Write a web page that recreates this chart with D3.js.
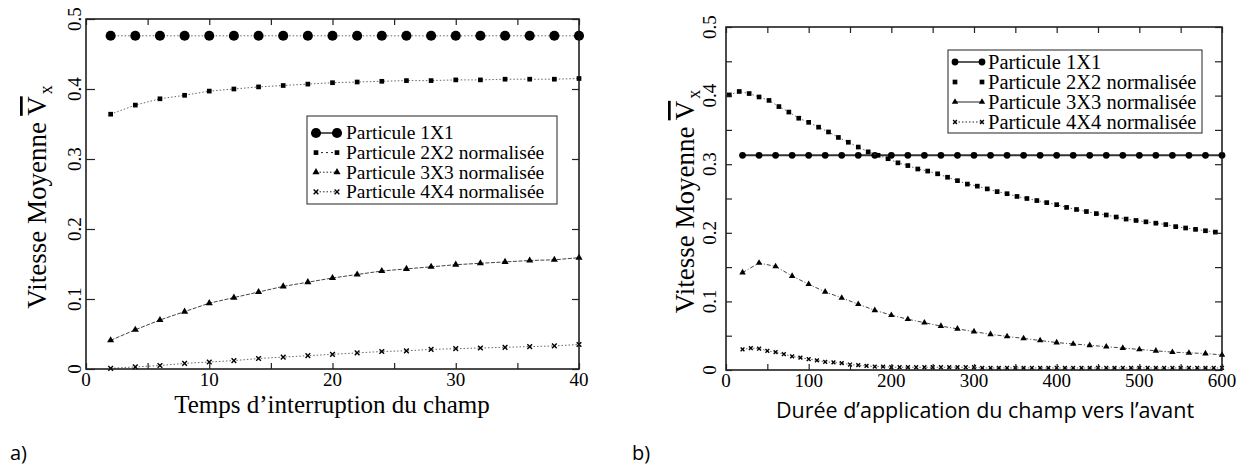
<!DOCTYPE html>
<html>
<head>
<meta charset="utf-8">
<script src="https://cdn.jsdelivr.net/npm/d3@7"></script>
<style>
  body { margin: 0; background: #fff; }
</style>
</head>
<body>
<div id="chart"></div>
<script>
// Données lues sur la figure a) : temps d'interruption du champ
const tempsA = [2, 4, 6, 8, 10, 12, 14, 16, 18, 20, 22, 24, 26, 28, 30, 32, 34, 36, 38, 40];
const a_1x1 = [0.476, 0.476, 0.476, 0.476, 0.476, 0.476, 0.476, 0.476, 0.476, 0.476,
               0.476, 0.476, 0.476, 0.476, 0.476, 0.476, 0.476, 0.476, 0.476, 0.476];
const a_2x2 = [0.364, 0.377, 0.386, 0.391, 0.397, 0.400, 0.403, 0.405, 0.407, 0.409,
               0.410, 0.411, 0.412, 0.412, 0.413, 0.413, 0.414, 0.414, 0.414, 0.415];
const a_3x3 = [0.041, 0.056, 0.070, 0.082, 0.094, 0.102, 0.110, 0.118, 0.124, 0.130,
               0.135, 0.140, 0.143, 0.146, 0.149, 0.151, 0.153, 0.155, 0.156, 0.159];
const a_4x4 = [0.001, 0.003, 0.005, 0.008, 0.010, 0.012, 0.015, 0.017, 0.019, 0.021,
               0.023, 0.025, 0.026, 0.028, 0.029, 0.030, 0.031, 0.032, 0.033, 0.035];

// Données lues sur la figure b) : durée d'application du champ vers l'avant
const dureeB20 = [20, 40, 60, 80, 100, 120, 140, 160, 180, 200, 220, 240, 260, 280, 300,
                  320, 340, 360, 380, 400, 420, 440, 460, 480, 500, 520, 540, 560, 580, 600];
const b_1x1 = [0.313, 0.313, 0.313, 0.313, 0.313, 0.313, 0.313, 0.313, 0.313, 0.313,
               0.313, 0.313, 0.313, 0.313, 0.313, 0.313, 0.313, 0.313, 0.313, 0.313,
               0.313, 0.313, 0.313, 0.313, 0.313, 0.313, 0.313, 0.313, 0.313, 0.313];
const b_3x3 = [0.142, 0.156, 0.151, 0.137, 0.125, 0.114, 0.105, 0.096, 0.087, 0.080,
               0.074, 0.069, 0.064, 0.060, 0.056, 0.052, 0.049, 0.046, 0.043, 0.040,
               0.038, 0.036, 0.034, 0.032, 0.030, 0.028, 0.026, 0.025, 0.024, 0.022];
const dureeB12 = [4, 16, 28, 40, 52, 64, 76, 88, 100, 112, 124, 136, 148, 160, 172, 184, 196,
                  208, 220, 232, 244, 256, 268, 280, 292, 304, 316, 328, 340, 352, 364, 376,
                  388, 400, 412, 424, 436, 448, 460, 472, 484, 496, 508, 520, 532, 544, 556,
                  568, 580, 592];
const b_2x2 = [0.401, 0.406, 0.403, 0.398, 0.393, 0.384, 0.376, 0.367, 0.361, 0.354,
               0.347, 0.339, 0.332, 0.325, 0.318, 0.313, 0.308, 0.302, 0.298, 0.293,
               0.290, 0.286, 0.281, 0.276, 0.271, 0.268, 0.264, 0.260, 0.257, 0.253,
               0.250, 0.247, 0.244, 0.241, 0.237, 0.234, 0.231, 0.228, 0.226, 0.223,
               0.220, 0.218, 0.216, 0.214, 0.212, 0.209, 0.207, 0.205, 0.203, 0.201];
const dureeB10 = [20, 30, 40, 50, 60, 70, 80, 90, 100, 110, 120, 130, 140, 150, 160, 170, 180,
                  190, 200, 210, 220, 230, 240, 250, 260, 270, 280, 290, 300, 310, 320, 330,
                  340, 350, 360, 370, 380, 390, 400, 410, 420, 430, 440, 450, 460, 470, 480,
                  490, 500, 510, 520, 530, 540, 550, 560, 570, 580, 590, 600];
const b_4x4 = [0.030, 0.032, 0.031, 0.028, 0.026, 0.023, 0.020, 0.018, 0.016, 0.014,
               0.012, 0.011, 0.010, 0.008, 0.007, 0.006, 0.005, 0.005, 0.004, 0.004,
               0.004, 0.004, 0.004, 0.004, 0.004, 0.004, 0.004, 0.004, 0.004, 0.003,
               0.003, 0.003, 0.003, 0.003, 0.003, 0.003, 0.003, 0.003, 0.003, 0.003,
               0.003, 0.003, 0.003, 0.003, 0.003, 0.003, 0.003, 0.003, 0.003, 0.003,
               0.003, 0.003, 0.003, 0.003, 0.003, 0.003, 0.003, 0.003, 0.003];

// Graduations
const xTicksA = [0, 5, 10, 15, 20, 25, 30, 35, 40];
const xLabelsA = [0, 10, 20, 30, 40];
const yTicksA = [0, 0.1, 0.2, 0.3, 0.4, 0.5];
const xTicksB = [0, 50, 100, 150, 200, 250, 300, 350, 400, 450, 500, 550, 600];
const xLabelsB = [0, 100, 200, 300, 400, 500, 600];
const yTicksB = [0, 0.05, 0.1, 0.15, 0.2, 0.25, 0.3, 0.35, 0.4, 0.45, 0.5];
const yLabels = [0, 0.1, 0.2, 0.3, 0.4, 0.5];

const legendes = ['Particule 1X1', 'Particule 2X2 normalisée',
                  'Particule 3X3 normalisée', 'Particule 4X4 normalisée'];

const SERIF = '"Liberation Serif", "Times New Roman", serif';
const SANS = '"Open Sans", sans-serif';

const W = 1246, H = 476;
const svg = d3.select('#chart').append('svg')
  .attr('width', W).attr('height', H)
  .style('display', 'block');
svg.append('rect').attr('width', W).attr('height', H).attr('fill', '#fff');

// Configuration des deux panneaux
const panneaux = [
  {
    left: 86, right: 579, top: 19, bottom: 369,
    xDomain: [0, 40], xTicks: xTicksA, xLabels: xLabelsA, yTicks: yTicksA,
    yLabelX: 81, yTitleX: 46, yTickLen: 9, xTickLen: 6,
    xTitle: 'Temps d’interruption du champ', xTitleX: 332, xTitleY: 413,
    xTitleFont: SERIF, xTitleSize: 25,
    lettre: 'a)', lettreX: 10,
    series: [
      { xs: tempsA, ys: a_1x1, sym: d3.symbolCircle, size: 80, dash: '1.5,2', w: 1, col: '#666' },
      { xs: tempsA, ys: a_2x2, sym: d3.symbolSquare, size: 22, dash: '1.5,2', w: 1, col: '#666' },
      { xs: tempsA, ys: a_3x3, sym: d3.symbolTriangle, size: 22, dash: '4,1.5', w: 1, col: '#444' },
      { xs: tempsA, ys: a_4x4, sym: d3.symbolX, size: 16, dash: '1.5,2', w: 1, col: '#666' }
    ],
    legende: { x: 307, y: 116, w: 250, h: 88, y0: 133, dy: 19.6, m1: 316, m2: 337, tx: 346, fs: 19.5,
               dash: [null, '2,3', '1.5,2', '1.5,2'] }
  },
  {
    left: 726, right: 1222, top: 27, bottom: 370,
    xDomain: [0, 600], xTicks: xTicksB, xLabels: xLabelsB, yTicks: yTicksB,
    yLabelX: 716, yTitleX: 694, yTickLen: 6, xTickLen: 6,
    xTitle: 'Durée d’application du champ vers l’avant', xTitleX: 985, xTitleY: 418,
    xTitleFont: SANS, xTitleSize: 21.5,
    lettre: 'b)', lettreX: 632,
    series: [
      { xs: dureeB20, ys: b_1x1, sym: d3.symbolCircle, size: 36, dash: null, w: 2, col: '#333' },
      { xs: dureeB12, ys: b_2x2, sym: d3.symbolSquare, size: 22, dash: '1.5,2.5', w: 1, col: '#666' },
      { xs: dureeB20, ys: b_3x3, sym: d3.symbolTriangle, size: 18, dash: '4,2,1,2', w: 1, col: '#444' },
      { xs: dureeB10, ys: b_4x4, sym: d3.symbolX, size: 11, dash: '1.5,2', w: 1, col: '#666' }
    ],
    legende: { x: 948, y: 50, w: 254, h: 83, y0: 62, dy: 20, m1: 955, m2: 982, tx: 988, fs: 20.5,
               dash: [null, '0,30', null, '1.5,2'] }
  }
];

const fmt = (v) => (v === 0 ? '0' : String(v));

panneaux.forEach((p) => {
  const x = d3.scaleLinear().domain(p.xDomain).range([p.left, p.right]);
  const y = d3.scaleLinear().domain([0, 0.5]).range([p.bottom, p.top]);
  const g = svg.append('g');

  // Courbes et marqueurs
  p.series.forEach((s) => {
    const pts = s.xs.map((d, i) => [d, s.ys[i]]);
    g.append('path')
      .datum(pts)
      .attr('fill', 'none')
      .attr('stroke', s.col)
      .attr('stroke-width', s.w)
      .attr('stroke-dasharray', s.dash)
      .attr('d', d3.line().x((d) => x(d[0])).y((d) => y(d[1])));
    const stroke = s.sym === d3.symbolX;
    g.append('g').selectAll('path')
      .data(pts)
      .join('path')
      .attr('transform', (d) => `translate(${x(d[0])},${y(d[1])})`)
      .attr('d', d3.symbol().type(s.sym).size(s.size))
      .attr('fill', stroke ? 'none' : '#000')
      .attr('stroke', stroke ? '#000' : 'none')
      .attr('stroke-width', 1.4);
  });

  // Cadre
  g.append('rect')
    .attr('x', p.left).attr('y', p.top)
    .attr('width', p.right - p.left).attr('height', p.bottom - p.top)
    .attr('fill', 'none').attr('stroke', '#111').attr('stroke-width', 1.5);

  // Graduations vers l'intérieur, sur les quatre côtés (sans texte)
  const ax = [
    [d3.axisBottom(x).tickValues(p.xTicks).tickSize(-p.xTickLen), `translate(0,${p.bottom})`],
    [d3.axisTop(x).tickValues(p.xTicks).tickSize(-p.xTickLen), `translate(0,${p.top})`],
    [d3.axisLeft(y).tickValues(p.yTicks).tickSize(-p.yTickLen), `translate(${p.left},0)`],
    [d3.axisRight(y).tickValues(p.yTicks).tickSize(-p.xTickLen - 1), `translate(${p.right},0)`]
  ];
  ax.forEach(([a, t]) => {
    const ga = g.append('g').attr('transform', t).call(a);
    ga.select('.domain').remove();
    ga.selectAll('text').remove();
    ga.selectAll('line').attr('stroke', '#222').attr('stroke-width', 1.2);
  });

  // Etiquettes de l'axe x
  g.append('g').selectAll('text')
    .data(p.xLabels)
    .join('text')
    .attr('x', (d) => x(d))
    .attr('y', p.bottom + 17)
    .attr('text-anchor', 'middle')
    .style('font-family', SERIF)
    .style('font-size', '19px')
    .text(fmt);

  // Etiquettes de l'axe y (tournées)
  g.append('g').selectAll('text')
    .data(yLabels)
    .join('text')
    .attr('transform', (d) => `translate(${p.yLabelX},${y(d)}) rotate(-90)`)
    .attr('text-anchor', 'middle')
    .style('font-family', SERIF)
    .style('font-size', '19px')
    .text(fmt);

  // Titre de l'axe y
  const cy = (p.top + p.bottom) / 2 + 3;
  const ty = g.append('text')
    .attr('transform', `translate(${p.yTitleX},${cy}) rotate(-90)`)
    .attr('text-anchor', 'middle')
    .style('font-family', SERIF)
    .style('font-size', '27px');
  ty.append('tspan').text('Vitesse Moyenne ');
  ty.append('tspan').text('V').style('text-decoration', 'overline');
  ty.append('tspan').text('x').attr('dx', 2).attr('dy', 6).style('font-size', '18px');

  // Titre de l'axe x
  g.append('text')
    .attr('x', p.xTitleX)
    .attr('y', p.xTitleY)
    .attr('text-anchor', 'middle')
    .style('font-family', p.xTitleFont)
    .style('font-size', p.xTitleSize + 'px')
    .text(p.xTitle);

  // Lettre du panneau
  g.append('text')
    .attr('x', p.lettreX).attr('y', 460)
    .style('font-family', SANS)
    .style('font-size', '20px')
    .text(p.lettre);

  // Légende
  const L = p.legende;
  const lg = g.append('g');
  lg.append('rect')
    .attr('x', L.x).attr('y', L.y).attr('width', L.w).attr('height', L.h)
    .attr('fill', '#fff').attr('stroke', '#222').attr('stroke-width', 1);
  p.series.forEach((s, i) => {
    const yy = L.y0 + i * L.dy;
    lg.append('line')
      .attr('x1', L.m1).attr('x2', L.m2).attr('y1', yy).attr('y2', yy)
      .attr('stroke', '#222').attr('stroke-width', i === 0 ? 1.5 : 1)
      .attr('stroke-dasharray', L.dash[i]);
    const stroke = s.sym === d3.symbolX;
    [L.m1, L.m2].forEach((mx) => {
      lg.append('path')
        .attr('transform', `translate(${mx},${yy})`)
        .attr('d', d3.symbol().type(s.sym).size(s.size))
        .attr('fill', stroke ? 'none' : '#000')
        .attr('stroke', stroke ? '#000' : 'none')
        .attr('stroke-width', 1.4);
    });
    lg.append('text')
      .attr('x', L.tx).attr('y', yy)
      .attr('dy', '0.33em')
      .style('font-family', SERIF)
      .style('font-size', L.fs + 'px')
      .text(legendes[i]);
  });
});
</script>
</body>
</html>
